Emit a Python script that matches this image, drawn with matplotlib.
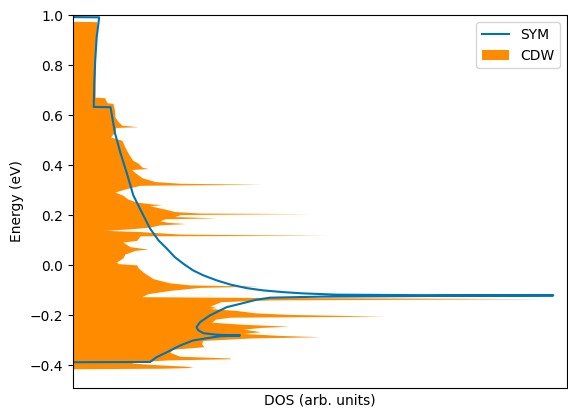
import numpy as np
import matplotlib.pyplot as plt

# Density of states of the symmetric phase (energy in eV, DOS in arb. units)
sym_energy = [1.000, 0.992, 0.991, 0.913, 0.820, 0.727, 0.633, 0.632, 0.528, 0.450,
              0.368, 0.280, 0.213, 0.147, 0.100, 0.067, 0.033, 0.007, -0.020,
              -0.040, -0.060, -0.077, -0.091, -0.100, -0.107, -0.112, -0.117,
              -0.119, -0.120, -0.122, -0.125, -0.129, -0.137, -0.147, -0.167,
              -0.200, -0.227, -0.247, -0.260, -0.271, -0.277, -0.280, -0.283,
              -0.287, -0.300, -0.320, -0.347, -0.367, -0.386, -0.387, -0.420]
sym_dos = [0.000, 0.000, 0.053, 0.048, 0.045, 0.043, 0.042, 0.076, 0.085, 0.096,
           0.109, 0.122, 0.139, 0.156, 0.173, 0.190, 0.206, 0.223, 0.243,
           0.264, 0.291, 0.319, 0.352, 0.385, 0.426, 0.466, 0.534,
           0.700, 0.972, 0.750, 0.500, 0.399, 0.372, 0.352, 0.311,
           0.277, 0.257, 0.250, 0.254, 0.264, 0.291, 0.338, 0.300,
           0.284, 0.243, 0.217, 0.190, 0.169, 0.156, 0.000, 0.000]

# Density of states of the charge density wave phase
cdw_energy = [1.000, 0.975, 0.974, 0.888, 0.752, 0.672, 0.670, 0.650, 0.647, 0.620,
              0.593, 0.575, 0.560, 0.554, 0.551, 0.535, 0.520, 0.513, 0.500, 0.473,
              0.447, 0.420, 0.408, 0.392, 0.387, 0.383, 0.370, 0.350, 0.335, 0.328,
              0.324, 0.320, 0.305, 0.293, 0.280, 0.265, 0.253, 0.245, 0.243, 0.238,
              0.225, 0.215, 0.209, 0.207, 0.203, 0.195, 0.190, 0.186, 0.178, 0.172,
              0.167, 0.162, 0.153, 0.146, 0.140, 0.135, 0.125, 0.122, 0.120, 0.118,
              0.100, 0.093, 0.075, 0.065, 0.060, 0.045, 0.030, 0.013, 0.007, 0.002,
              -0.010, -0.027, -0.053, -0.070, -0.078, -0.083, -0.088, -0.100, -0.113,
              -0.125, -0.128, -0.133, -0.138, -0.145, -0.155, -0.163, -0.168, -0.172,
              -0.180, -0.190, -0.196, -0.203, -0.207, -0.215, -0.227, -0.235, -0.243,
              -0.248, -0.255, -0.265, -0.272, -0.280, -0.285, -0.290, -0.300, -0.313,
              -0.325, -0.335, -0.347, -0.363, -0.370, -0.373, -0.378, -0.385, -0.390,
              -0.397, -0.403, -0.408, -0.411, -0.413, -0.490]
cdw_dos = [0.000, 0.000, 0.048, 0.046, 0.045, 0.045, 0.064, 0.069, 0.081, 0.084,
           0.085, 0.091, 0.099, 0.132, 0.087, 0.085, 0.079, 0.076, 0.099, 0.105,
           0.112, 0.121, 0.132, 0.140, 0.152, 0.119, 0.126, 0.140, 0.166, 0.217,
           0.383, 0.136, 0.105, 0.085, 0.101, 0.111, 0.129, 0.162, 0.180, 0.156,
           0.186, 0.206, 0.257, 0.478, 0.217, 0.206, 0.291, 0.186, 0.176, 0.192,
           0.228, 0.176, 0.156, 0.115, 0.065, 0.136, 0.217, 0.384, 0.517, 0.136,
           0.129, 0.101, 0.115, 0.152, 0.126, 0.105, 0.101, 0.088, 0.092, 0.129,
           0.132, 0.142, 0.162, 0.196, 0.237, 0.376, 0.257, 0.196, 0.152,
           0.139, 0.358, 0.959, 0.400, 0.300, 0.287, 0.277, 0.291, 0.277,
           0.330, 0.370, 0.440, 0.630, 0.318, 0.288, 0.281, 0.340, 0.437,
           0.380, 0.345, 0.380, 0.344, 0.420, 0.500, 0.360, 0.263, 0.260,
           0.265, 0.202, 0.196, 0.216, 0.318, 0.318, 0.190, 0.130, 0.118,
           0.170, 0.230, 0.243, 0.180, 0.000, 0.000]

fig = plt.figure(figsize=(5.68, 4.08), dpi=100)
ax = fig.add_axes([0.1285, 0.049, 0.870, 0.914])

cdw = ax.fill_betweenx(cdw_energy, 0, cdw_dos, color='darkorange', linewidth=0, label='CDW')
sym, = ax.plot(sym_dos, sym_energy, color='#0173b2', linewidth=1.5, label='SYM')

ax.set_xlim(0, 1)
ax.set_ylim(-0.49, 1.0)
ax.set_xticks([])
ax.set_xlabel('DOS (arb. units)')
ax.set_ylabel('Energy (eV)')
ax.legend(handles=[sym, cdw], loc='upper right')

fig.savefig('out.png', dpi=100)
